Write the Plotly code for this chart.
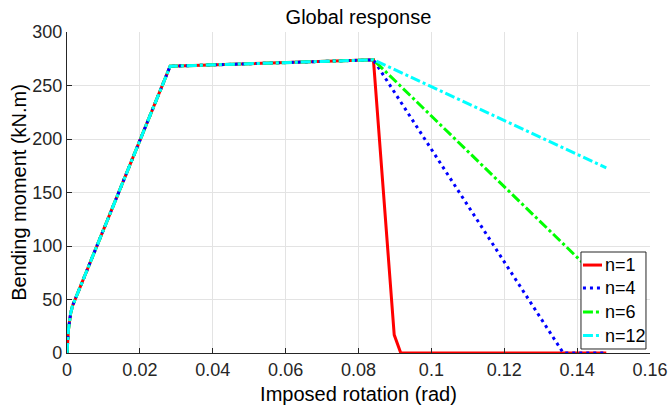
import plotly.graph_objects as go

# ---- data ----
theta_common = [0.0, 0.0004, 0.0010, 0.0015, 0.0283, 0.0841]
moment_common = [0.0, 22.0, 37.0, 44.0, 268.0, 274.0]

theta_n1 = theta_common + [0.0898, 0.0916, 0.148]
moment_n1 = moment_common + [17.0, 0.0, 0.0]

theta_n4 = theta_common + [0.1362, 0.148]
moment_n4 = moment_common + [0.0, 0.0]

theta_n6 = theta_common + [0.148]
moment_n6 = moment_common + [63.0]

theta_n12 = theta_common + [0.148]
moment_n12 = moment_common + [173.0]

series_names = ["n=1", "n=4", "n=6", "n=12"]
x_ticks = [0, 0.02, 0.04, 0.06, 0.08, 0.1, 0.12, 0.14, 0.16]
x_tick_labels = ["0", "0.02", "0.04", "0.06", "0.08", "0.1", "0.12", "0.14", "0.16"]
y_ticks = [0, 50, 100, 150, 200, 250, 300]

FONT = "Liberation Sans, Arial, Helvetica, sans-serif"
AX = "#262626"

fig = go.Figure()
styles = [
    (theta_n1, moment_n1, "#ff0000", "solid"),
    (theta_n4, moment_n4, "#0000ff", "3px,4px"),
    (theta_n6, moment_n6, "#00ff00", "10px,3px,3px,3px"),
    (theta_n12, moment_n12, "#00ffff", "10px,3px,3px,3px"),
]
for name, (xs, ys, col, dash) in zip(series_names, styles):
    fig.add_trace(go.Scatter(x=xs, y=ys, mode="lines", name=name, showlegend=False,
                             line=dict(color=col, width=3, dash=dash)))

# ---- compact MATLAB-style legend (box, sample lines, labels) ----
leg_x0, leg_x1, leg_y0, leg_y1 = 0.8816, 0.9931, 0.0125, 0.3146
sample_x0, sample_x1, text_x = 0.885, 0.9177, 0.919
row_y = [0.274, 0.2025, 0.1277, 0.0545]
fig.add_shape(type="rect", xref="paper", yref="paper",
              x0=leg_x0, x1=leg_x1, y0=leg_y0, y1=leg_y1,
              fillcolor="white", line=dict(color=AX, width=1), layer="above")
for name, (xs, ys, col, dash), yy in zip(series_names, styles, row_y):
    fig.add_shape(type="line", xref="paper", yref="paper",
                  x0=sample_x0, x1=sample_x1, y0=yy, y1=yy,
                  line=dict(color=col, width=3, dash=dash), layer="above")
    fig.add_annotation(text=name, xref="paper", yref="paper", x=text_x, y=yy,
                       xanchor="left", yanchor="middle", showarrow=False,
                       font=dict(family=FONT, size=18, color="black"))

fig.update_layout(
    width=670, height=414,
    margin=dict(l=67, r=20, t=32, b=61),
    paper_bgcolor="white", plot_bgcolor="white",
    font=dict(family=FONT, color=AX),
    title=dict(text="Global response", x=0.535, xanchor="center", y=0.958, yanchor="middle",
               font=dict(family=FONT, size=20, color="black")),
    showlegend=False,
)
fig.update_xaxes(
    range=[0, 0.16], tickvals=x_ticks, ticktext=x_tick_labels, automargin=False,
    showgrid=True, gridcolor="#e3e3e3", gridwidth=1, zeroline=False,
    showline=True, linecolor=AX, linewidth=1.2,
    ticks="inside", ticklen=5, tickcolor=AX,
    tickfont=dict(family=FONT, size=18, color=AX),
    title=dict(text="Imposed rotation (rad)", standoff=8,
               font=dict(family=FONT, size=20, color="black")),
)
fig.update_yaxes(
    range=[0, 300], tickvals=y_ticks, automargin=False,
    showgrid=True, gridcolor="#e3e3e3", gridwidth=1, zeroline=False,
    showline=True, linecolor=AX, linewidth=1.2,
    ticks="inside", ticklen=5, tickcolor=AX,
    tickfont=dict(family=FONT, size=18, color=AX),
    title=dict(text="Bending moment (kN.m)", standoff=0,
               font=dict(family=FONT, size=20, color="black")),
)

fig.write_html("out.html",
               config={"displayModeBar": False},
               post_script="document.body.style.margin='0';document.body.style.padding='0';"
                           "document.body.style.overflow='hidden';")
